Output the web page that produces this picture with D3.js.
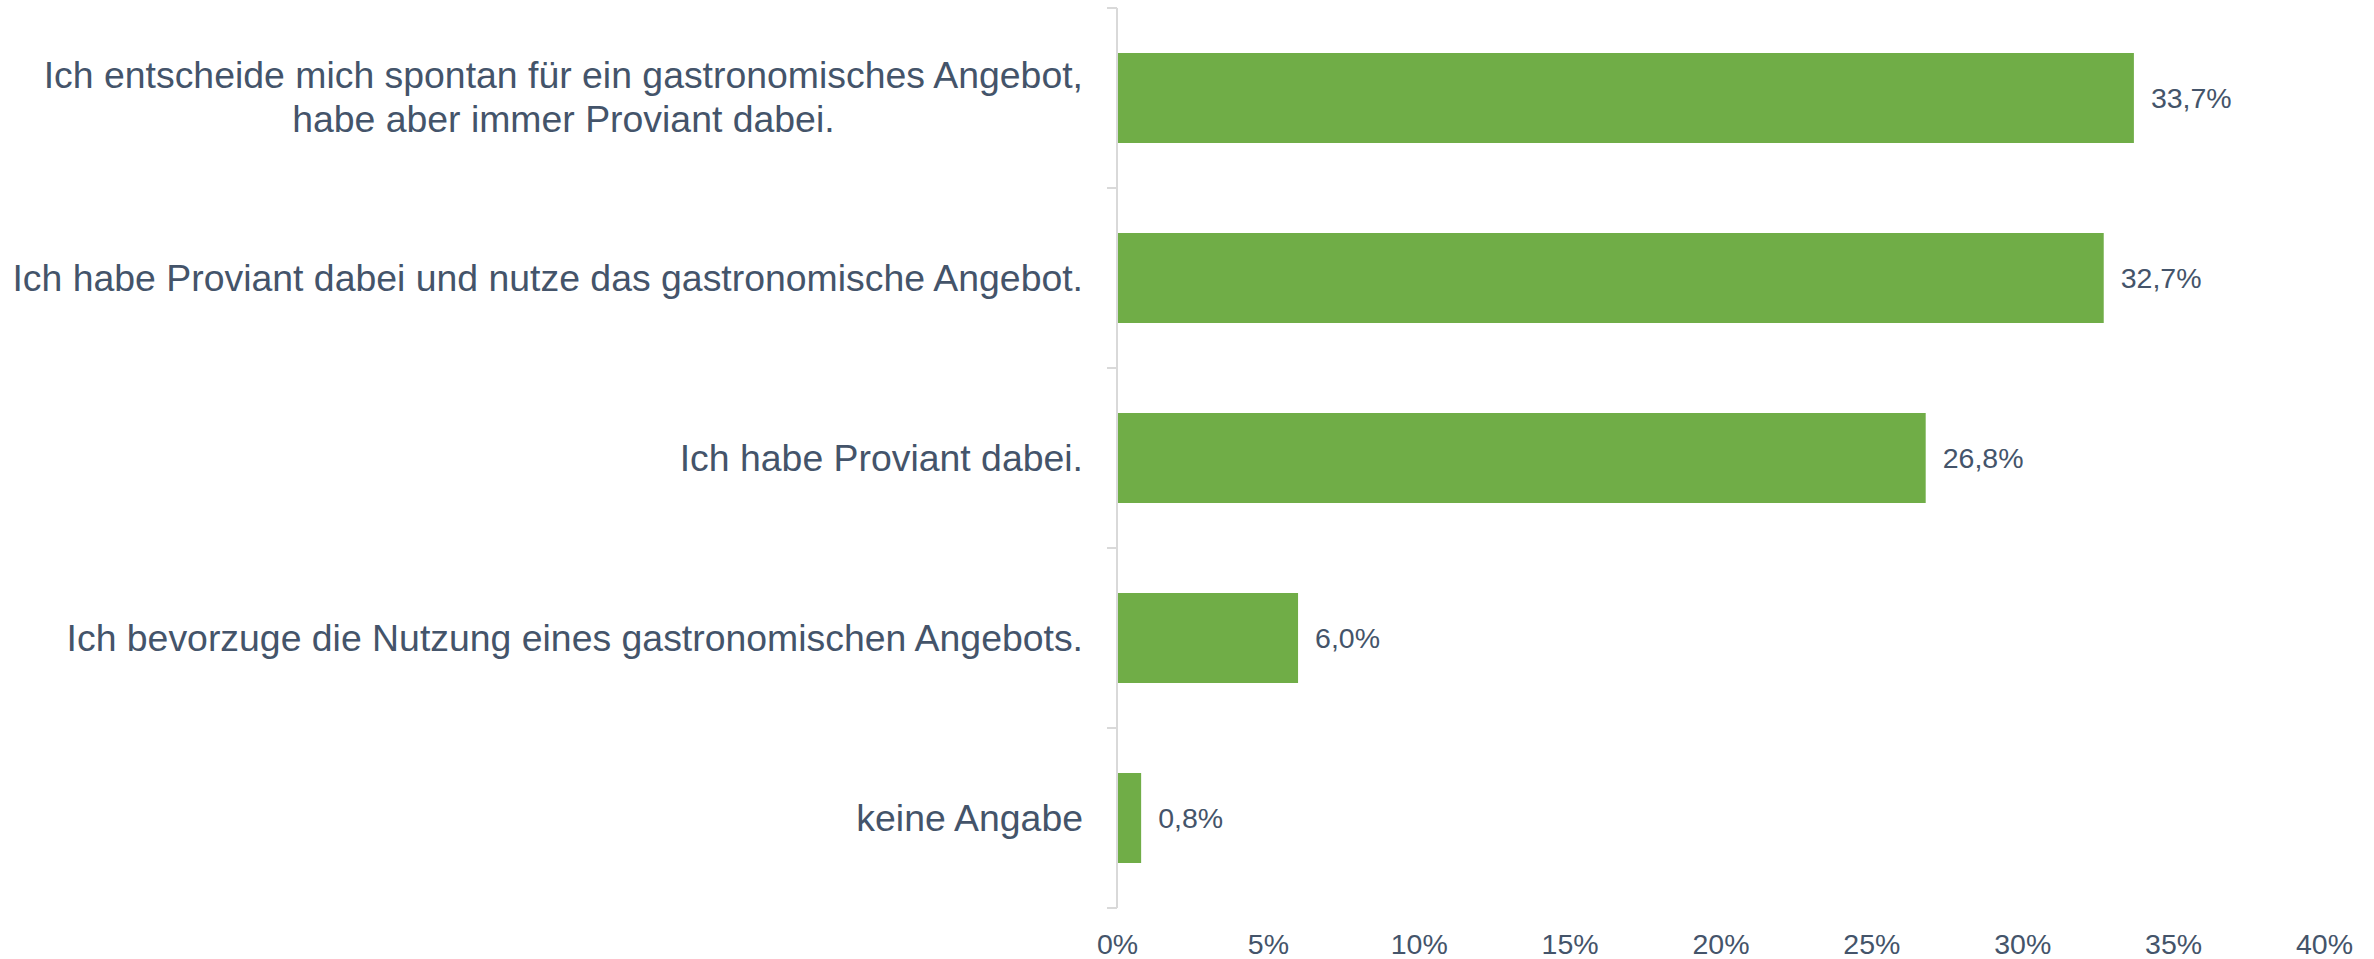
<!DOCTYPE html>
<html>
<head>
<meta charset="utf-8">
<script src="https://cdn.jsdelivr.net/npm/d3@7"></script>
<style>
  html, body { margin: 0; padding: 0; background: #ffffff; }
  svg { display: block; }
</style>
</head>
<body>
<svg id="chart" width="2374" height="959"></svg>
<script>
// ---- data ----
const categories = [
  ["Ich entscheide mich spontan für ein gastronomisches Angebot,", "habe aber immer Proviant dabei."],
  ["Ich habe Proviant dabei und nutze das gastronomische Angebot."],
  ["Ich habe Proviant dabei."],
  ["Ich bevorzuge die Nutzung eines gastronomischen Angebots."],
  ["keine Angabe"]
];
const values = [33.7, 32.7, 26.8, 6.0, 0.8];
const xTicks = [0, 5, 10, 15, 20, 25, 30, 35, 40];

// ---- layout ----
const plotLeft = 1117, plotRight = 2324, plotTop = 8, plotBottom = 908;
const textColor = "#44546A";
const barColor = "#70AD47";
const axisColor = "#D9D9D9";
const font = "'Liberation Sans', Arial, sans-serif";

const svg = d3.select("#chart");
const de = d3.formatLocale({decimal: ",", thousands: ".", grouping: [3], currency: ["", "€"]});
const fmtVal = de.format(".1f");

const keys = categories.map((c, i) => i);
const y = d3.scaleBand().domain(keys).range([plotTop, plotBottom]).paddingInner(0.5).paddingOuter(0.25);
const x = d3.scaleLinear().domain([0, 40]).range([plotLeft, plotRight]);

// bars
svg.append("g").selectAll("rect").data(values).enter().append("rect")
  .attr("x", x(0))
  .attr("y", (d, i) => y(i))
  .attr("width", d => x(d) - x(0))
  .attr("height", y.bandwidth())
  .attr("fill", barColor);

// y axis line + ticks at band boundaries
const step = y.step();
const boundaries = d3.range(categories.length + 1).map(i => plotTop + i * step);
const ax = svg.append("g");
ax.append("line")
  .attr("x1", x(0)).attr("x2", x(0))
  .attr("y1", plotTop).attr("y2", plotBottom)
  .attr("stroke", axisColor).attr("stroke-width", 2);
ax.selectAll("line.tick").data(boundaries).enter().append("line")
  .attr("class", "tick")
  .attr("x1", x(0) - 10).attr("x2", x(0))
  .attr("y1", d => d).attr("y2", d => d)
  .attr("stroke", axisColor).attr("stroke-width", 2);

// category labels
const catG = svg.append("g")
  .attr("font-family", font).attr("font-size", 37.4).attr("fill", textColor);
categories.forEach((lines, i) => {
  const cy = y(i) + y.bandwidth() / 2;
  const lh = 44;
  if (lines.length === 1) {
    catG.append("text")
      .attr("x", x(0) - 34).attr("y", cy)
      .attr("dy", "0.35em")
      .attr("text-anchor", "end")
      .text(lines[0]);
  } else {
    const tmp = catG.append("text");
    const wMax = d3.max(lines, l => { tmp.text(l); return tmp.node().getComputedTextLength(); });
    tmp.remove();
    const t = catG.append("text").attr("text-anchor", "middle");
    const cx = x(0) - 34 - wMax / 2;
    lines.forEach((l, j) => {
      t.append("tspan")
        .attr("x", cx)
        .attr("y", cy + (j - (lines.length - 1) / 2) * lh)
        .attr("dy", "0.32em")
        .text(l);
    });
  }
});

// value labels
svg.append("g").selectAll("text").data(values).enter().append("text")
  .attr("x", d => x(d) + 17)
  .attr("y", (d, i) => y(i) + y.bandwidth() / 2)
  .attr("dy", "0.35em")
  .attr("font-family", font).attr("font-size", 28.5).attr("fill", textColor)
  .text(d => fmtVal(d) + "%");

// x axis tick labels (no axis line)
const xAxis = d3.axisBottom(x).tickValues(xTicks).tickFormat(d => d + "%").tickSize(0).tickPadding(0);
const xg = svg.append("g").attr("transform", `translate(0, ${plotBottom})`).call(xAxis);
xg.select(".domain").remove();
xg.selectAll("text")
  .attr("font-family", font).attr("font-size", 28.5).attr("fill", textColor)
  .attr("dy", null).attr("y", 46);
</script>
</body>
</html>
